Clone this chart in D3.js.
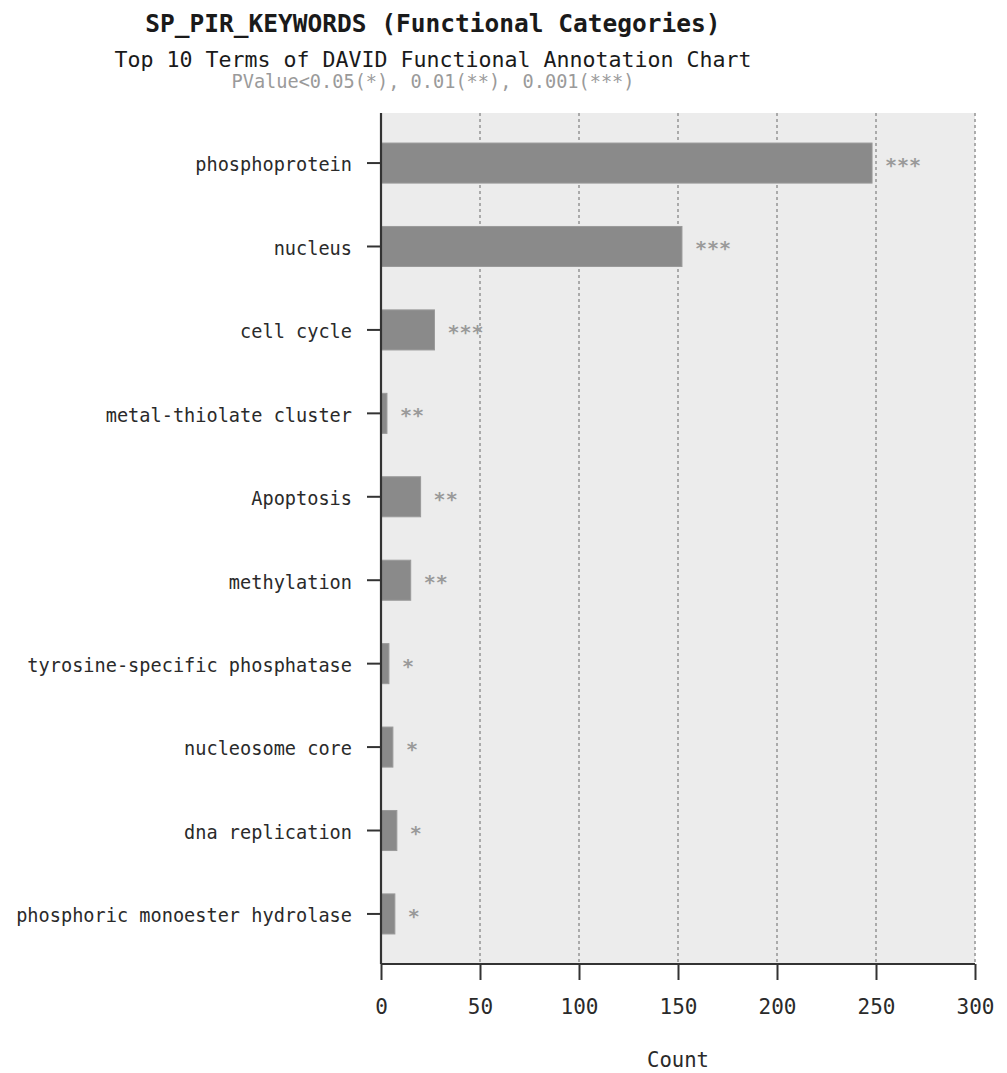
<!DOCTYPE html>
<html>
<head>
<meta charset="utf-8">
<script src="https://cdn.jsdelivr.net/npm/d3@7"></script>
<style>
  html, body { margin: 0; padding: 0; background: #ffffff; }
  svg { display: block; }
  text { font-family: "DejaVu Sans Mono", "Liberation Mono", monospace; }
</style>
</head>
<body>
<svg id="chart" width="1007" height="1073"></svg>
<script>
// Top 10 SP_PIR_KEYWORDS terms, top to bottom
const terms = [
  "phosphoprotein",
  "nucleus",
  "cell cycle",
  "metal-thiolate cluster",
  "Apoptosis",
  "methylation",
  "tyrosine-specific phosphatase",
  "nucleosome core",
  "dna replication",
  "phosphoric monoester hydrolase"
];
const counts = [248, 152, 27, 3, 20, 15, 4, 6, 8, 7];
const significance = ["***", "***", "***", "**", "**", "**", "*", "*", "*", "*"];
const countTicks = [0, 50, 100, 150, 200, 250, 300];

const svg = d3.select("#chart");

const plot = { left: 381, right: 975, top: 113, bottom: 964 };

const x = d3.scaleLinear().domain([0, 300]).range([plot.left, plot.right]);
const y = d3.scaleBand()
  .domain(terms)
  .range([plot.top, plot.bottom])
  .paddingInner(0.52)
  .paddingOuter(0.36);

// Titles
svg.append("text")
  .attr("x", 433).attr("y", 32)
  .attr("text-anchor", "middle")
  .attr("font-size", 24.5).attr("font-weight", "bold")
  .attr("fill", "#1a1a1a")
  .text("SP_PIR_KEYWORDS (Functional Categories)");

svg.append("text")
  .attr("x", 433).attr("y", 67)
  .attr("text-anchor", "middle")
  .attr("font-size", 21.6)
  .attr("fill", "#1a1a1a")
  .text("Top 10 Terms of DAVID Functional Annotation Chart");

svg.append("text")
  .attr("x", 433).attr("y", 88)
  .attr("text-anchor", "middle")
  .attr("font-size", 18.6)
  .attr("fill", "#9a9a9a")
  .text("PValue<0.05(*), 0.01(**), 0.001(***)");

// Plot panel background
svg.append("rect")
  .attr("x", plot.left).attr("y", plot.top)
  .attr("width", plot.right - plot.left)
  .attr("height", plot.bottom - plot.top)
  .attr("fill", "#ececec");

// Dotted vertical gridlines
svg.append("g")
  .selectAll("line")
  .data(countTicks.filter(d => d > 0))
  .join("line")
  .attr("x1", d => x(d)).attr("x2", d => x(d))
  .attr("y1", plot.top).attr("y2", plot.bottom)
  .attr("stroke", "#9a9a9a")
  .attr("stroke-width", 1.6)
  .attr("stroke-dasharray", "3,3");

// Bars
svg.append("g")
  .selectAll("rect")
  .data(terms)
  .join("rect")
  .attr("x", x(0))
  .attr("y", d => y(d))
  .attr("width", (d, i) => x(counts[i]) - x(0))
  .attr("height", y.bandwidth())
  .attr("fill", "#8a8a8a")
  .attr("stroke", "#9a9a9a")
  .attr("stroke-width", 1);

// Significance stars next to each bar
svg.append("g")
  .selectAll("text")
  .data(terms)
  .join("text")
  .attr("x", (d, i) => x(counts[i]) + 13)
  .attr("y", d => y(d) + y.bandwidth() / 2 + 9)
  .attr("font-size", 20)
  .attr("font-weight", "bold")
  .attr("fill", "#9a9a9a")
  .text((d, i) => significance[i]);

// Y axis
const yAxis = svg.append("g")
  .attr("transform", `translate(${plot.left},0)`)
  .call(d3.axisLeft(y).tickSize(14).tickPadding(15));
yAxis.select(".domain").attr("stroke", "#333").attr("stroke-width", 2.2)
  .attr("d", `M0,${plot.top}V${plot.bottom}`);
yAxis.selectAll(".tick line").attr("stroke", "#333").attr("stroke-width", 2);
yAxis.selectAll(".tick text")
  .attr("font-family", "DejaVu Sans Mono, monospace")
  .attr("font-size", 18.6)
  .attr("dy", "0.45em")
  .attr("fill", "#2a2a2a");

// X axis
const xAxis = svg.append("g")
  .attr("transform", `translate(0,${plot.bottom})`)
  .call(d3.axisBottom(x).tickValues(countTicks).tickSize(16).tickPadding(19));
xAxis.select(".domain").attr("stroke", "#333").attr("stroke-width", 2.2)
  .attr("d", `M${plot.left},0H${plot.right}`);
xAxis.selectAll(".tick line").attr("stroke", "#333").attr("stroke-width", 2);
xAxis.selectAll(".tick text")
  .attr("font-family", "DejaVu Sans Mono, monospace")
  .attr("font-size", 21)
  .attr("fill", "#2a2a2a");

// X axis title
svg.append("text")
  .attr("x", (plot.left + plot.right) / 2).attr("y", 1067)
  .attr("text-anchor", "middle")
  .attr("font-size", 20.6)
  .attr("fill", "#2a2a2a")
  .text("Count");
</script>
</body>
</html>
